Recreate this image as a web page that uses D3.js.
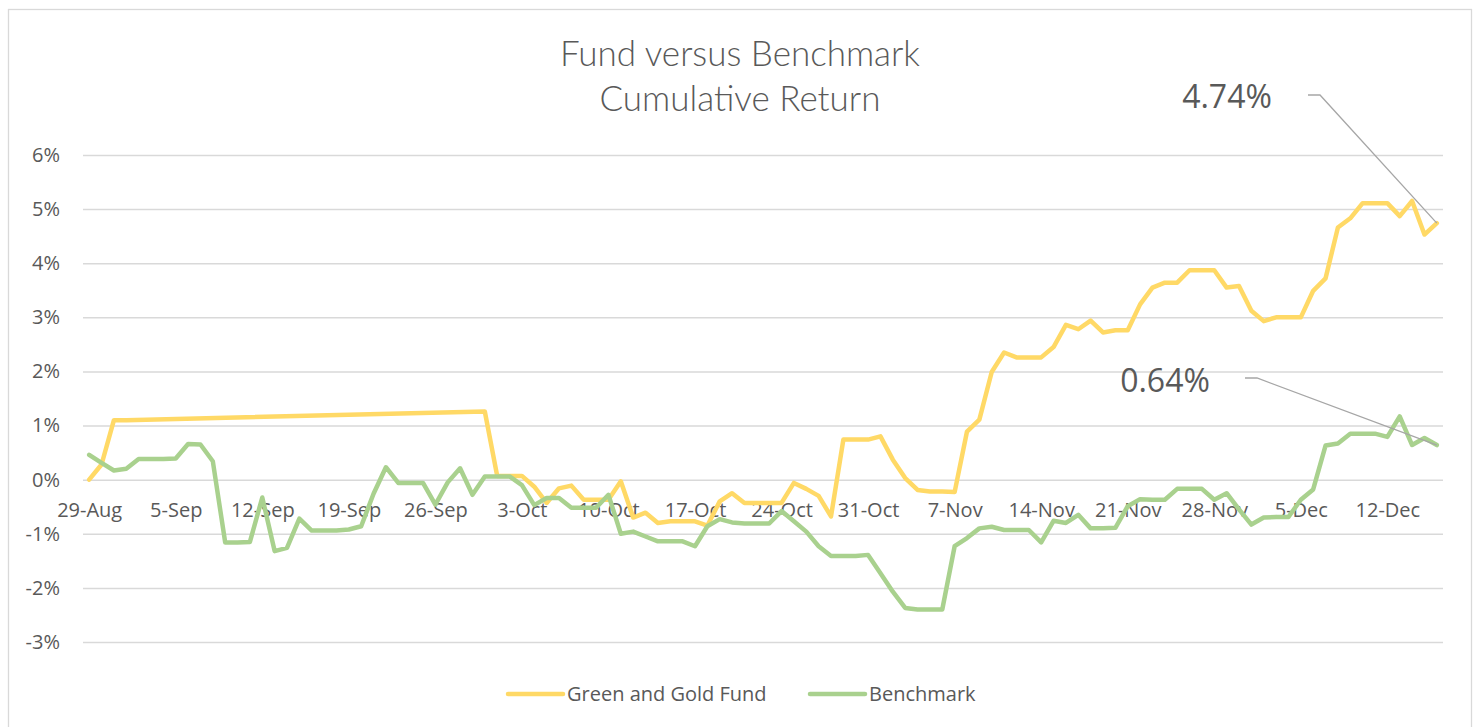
<!DOCTYPE html>
<html>
<head>
<meta charset="utf-8">
<script src="https://d3js.org/d3.v7.min.js"></script>
<style>
  body { margin: 0; background: #fff; }
  svg { display: block; }
</style>
</head>
<body>
<div id="chart"></div>
<script>
// data (daily, starting 29-Aug)
const startDate = "2016-08-29";
const seriesNames = ["Green and Gold Fund", "Benchmark"];

// fund has no values between 2-Sep and 29-Sep, Excel joins the gap
const fundValues = [
  0.00, 0.28, 1.10, 1.10, null, null, null, null, null, null,
  null, null, null, null, null, null, null, null, null, null,
  null, null, null, null, null, null, null, null, null, null,
  null, null, 1.26, 0.07, 0.07, 0.07, -0.13, -0.43, -0.16, -0.11,
  -0.37, -0.37, -0.37, -0.03, -0.70, -0.61, -0.80, -0.77, -0.77, -0.77,
  -0.85, -0.40, -0.25, -0.43, -0.43, -0.43, -0.43, -0.06, -0.17, -0.30,
  -0.68, 0.74, 0.74, 0.74, 0.80, 0.37, 0.03, -0.19, -0.22, -0.22,
  -0.23, 0.89, 1.11, 1.99, 2.35, 2.26, 2.26, 2.26, 2.45, 2.86,
  2.78, 2.94, 2.72, 2.76, 2.76, 3.24, 3.55, 3.64, 3.64, 3.87,
  3.87, 3.87, 3.55, 3.58, 3.12, 2.93, 3.00, 3.00, 3.00, 3.49,
  3.72, 4.66, 4.83, 5.11, 5.11, 5.11, 4.87, 5.15, 4.53, 4.74
];

const benchmarkValues = [
  0.46, 0.31, 0.17, 0.20, 0.38, 0.38, 0.38, 0.39, 0.66, 0.65,
  0.34, -1.16, -1.16, -1.15, -0.33, -1.32, -1.26, -0.72, -0.94, -0.94,
  -0.94, -0.92, -0.86, -0.26, 0.23, -0.06, -0.06, -0.06, -0.46, -0.05,
  0.21, -0.28, 0.06, 0.06, 0.06, -0.10, -0.47, -0.34, -0.34, -0.52,
  -0.52, -0.52, -0.28, -1.00, -0.96, -1.05, -1.14, -1.14, -1.14, -1.23,
  -0.86, -0.73, -0.79, -0.81, -0.81, -0.81, -0.58, -0.77, -0.96, -1.23,
  -1.41, -1.41, -1.41, -1.39, -1.73, -2.07, -2.37, -2.40, -2.40, -2.40,
  -1.23, -1.08, -0.90, -0.87, -0.93, -0.93, -0.93, -1.16, -0.76, -0.80,
  -0.65, -0.90, -0.90, -0.89, -0.49, -0.36, -0.37, -0.37, -0.17, -0.17,
  -0.17, -0.37, -0.25, -0.55, -0.83, -0.70, -0.69, -0.69, -0.37, -0.18,
  0.63, 0.67, 0.85, 0.85, 0.85, 0.79, 1.17, 0.64, 0.77, 0.64
];

const xTickLabels = ["29-Aug", "5-Sep", "12-Sep", "19-Sep", "26-Sep", "3-Oct", "10-Oct",
  "17-Oct", "24-Oct", "31-Oct", "7-Nov", "14-Nov", "21-Nov", "28-Nov", "5-Dec", "12-Dec"];
const yTicks = [-3, -2, -1, 0, 1, 2, 3, 4, 5, 6];

const colors = ["#FFD966", "#A9D18E"];
const textColor = "#595959";
const font = "'Open Sans', sans-serif";

const width = 1478, height = 727;
const plot = { left: 83, right: 1443, top: 155, bottom: 642 };

const start = d3.timeParse("%Y-%m-%d")(startDate);
const dates = benchmarkValues.map((v, i) => d3.timeDay.offset(start, i));
const parseTick = d3.timeParse("%d-%b-%Y");
const tickDates = xTickLabels.map(s => parseTick(s + "-2016"));

const fund = dates.map((d, i) => ({ date: d, value: fundValues[i] })).filter(d => d.value !== null);
const bench = dates.map((d, i) => ({ date: d, value: benchmarkValues[i] }));

const svg = d3.select("#chart").append("svg")
  .attr("width", width)
  .attr("height", height);

// chart border
svg.append("rect")
  .attr("x", 8.5).attr("y", 9.5)
  .attr("width", 1463).attr("height", 730)
  .attr("fill", "#fff")
  .attr("stroke", "#d9d9d9")
  .attr("stroke-width", 1.3);

// scales, half a day of padding on each side like Excel's date axis
const x = d3.scaleTime()
  .domain([d3.timeHour.offset(dates[0], -12), d3.timeHour.offset(dates[dates.length - 1], 12)])
  .range([plot.left, plot.right]);
const y = d3.scaleLinear()
  .domain([d3.min(yTicks), d3.max(yTicks)])
  .range([plot.bottom, plot.top]);

// y axis + gridlines
const yAxis = svg.append("g")
  .attr("transform", `translate(${plot.left},0)`)
  .call(d3.axisLeft(y).tickValues(yTicks).tickSize(-(plot.right - plot.left)).tickPadding(23)
    .tickFormat(d => d + "%"));
yAxis.select(".domain").remove();
yAxis.selectAll("line").attr("stroke", "#d9d9d9").attr("stroke-width", 1.5);
yAxis.selectAll("text")
  .attr("fill", textColor)
  .style("font-family", font)
  .style("font-size", "20px");

// x axis labels sit under the 0% line
const xAxis = svg.append("g")
  .attr("transform", `translate(0,${y(0)})`)
  .call(d3.axisBottom(x).tickValues(tickDates).tickSize(0).tickPadding(23)
    .tickFormat((d, i) => xTickLabels[i]));
xAxis.select(".domain").remove();
xAxis.selectAll("text")
  .attr("fill", textColor)
  .style("font-family", font)
  .style("font-size", "20px");

// lines
const line = d3.line()
  .x(d => x(d.date))
  .y(d => y(d.value));

[fund, bench].forEach((data, i) => {
  svg.append("path")
    .datum(data)
    .attr("fill", "none")
    .attr("stroke", colors[i])
    .attr("stroke-width", 4.5)
    .attr("stroke-linejoin", "round")
    .attr("stroke-linecap", "round")
    .attr("d", line);
});

// title
const title = svg.append("text")
  .attr("x", 740)
  .attr("text-anchor", "middle")
  .attr("fill", textColor)
  .style("font-family", "Lato, sans-serif")
  .style("font-weight", 300)
  .style("font-size", "35px");
title.append("tspan").attr("x", 740).attr("y", 66).text("Fund versus Benchmark");
title.append("tspan").attr("x", 740).attr("y", 111).text("Cumulative Return");

// end-point data labels with leader lines
const lastFund = fund[fund.length - 1];
const lastBench = bench[bench.length - 1];
const labels = [
  { d: lastFund, tx: 1227, ty: 108, lx: 1308, ly: 95 },
  { d: lastBench, tx: 1165, ty: 392, lx: 1245, ly: 378 }
];
labels.forEach(l => {
  svg.append("path")
    .attr("d", `M${l.lx},${l.ly}H${l.lx + 12}L${x(l.d.date)},${y(l.d.value)}`)
    .attr("fill", "none")
    .attr("stroke", "#a6a6a6")
    .attr("stroke-width", 1.3);
  svg.append("text")
    .attr("x", l.tx).attr("y", l.ty)
    .attr("text-anchor", "middle")
    .attr("fill", textColor)
    .style("font-family", font)
    .style("font-size", "32px")
    .text(l.d.value.toFixed(2) + "%");
});

// legend
const legend = [
  { x1: 508, tx: 567 },
  { x1: 810, tx: 869 }
];
legend.forEach((l, i) => {
  svg.append("line")
    .attr("x1", l.x1).attr("x2", l.x1 + 55)
    .attr("y1", 694).attr("y2", 694)
    .attr("stroke", colors[i])
    .attr("stroke-width", 4.5)
    .attr("stroke-linecap", "round");
  svg.append("text")
    .attr("x", l.tx).attr("y", 701)
    .attr("fill", textColor)
    .style("font-family", font)
    .style("font-size", "20px")
    .text(seriesNames[i]);
});
</script>
</body>
</html>
